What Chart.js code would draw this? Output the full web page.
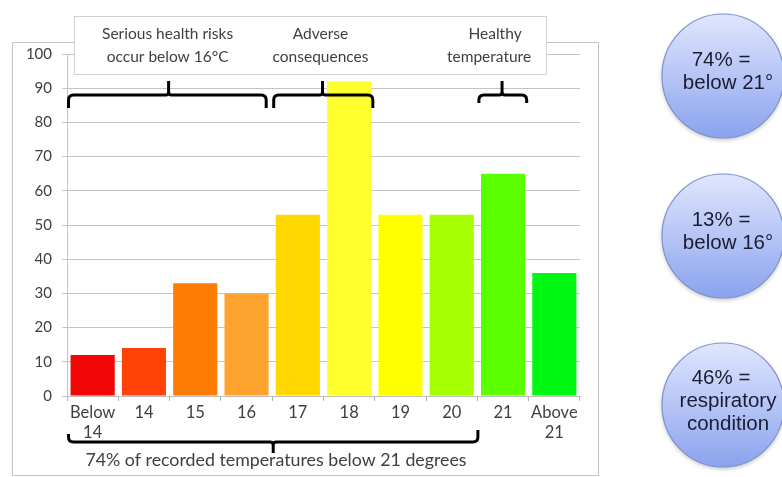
<!DOCTYPE html>
<html>
<head>
<meta charset="utf-8">
<script src="https://cdn.jsdelivr.net/npm/chart.js@4"></script>
<style>
html,body{margin:0;padding:0;background:#fff;}
#wrap{position:relative;width:782px;height:477px;}
</style>
</head>
<body>
<div id="wrap"><canvas id="c" width="782" height="477"></canvas></div>
<script>
const categories = [["Below","14"], "14", "15", "16", "17", "18", "19", "20", "21", ["Above","21"]];
const values = [12, 14, 33, 30, 53, 92, 53, 53, 65, 36];
const barColors = ["#f20606", "#ff4308", "#ff7c02", "#fda32e", "#ffd800", "#ffff2e", "#ffff00", "#a6ff00", "#5cff00", "#00f712"];
const yTicks = [0, 10, 20, 30, 40, 50, 60, 70, 80, 90, 100];
const boxLabels = [
  {lines:["Serious health risks","occur below 16\u00B0C"], from:0, to:3},
  {lines:["Adverse","consequences"], from:4, to:5},
  {lines:["Healthy","temperature"], from:8, to:8}
];
const bottomNote = "74% of recorded temperatures below 21 degrees";
const bottomSpan = {from:0, to:7};
const bubbles = [
  ["74% =", "below 21\u00B0"],
  ["13% =", "below 16\u00B0"],
  ["46% =", "respiratory", "condition"]
];

const FONT = "Lato, 'Open Sans', sans-serif";

function brace(ctx, x1, x2, xm, yH, yL, yR, yTip) {
  const r = 5;
  const dirL = Math.sign(yL - yH), dirR = Math.sign(yR - yH), dirT = Math.sign(yTip - yH);
  ctx.beginPath();
  ctx.moveTo(x1, yL);
  ctx.lineTo(x1, yH + dirL * r);
  ctx.quadraticCurveTo(x1, yH, x1 + r, yH);
  ctx.lineTo(xm - 3, yH);
  ctx.quadraticCurveTo(xm, yH, xm, yH + dirT * 3);
  ctx.lineTo(xm, yTip);
  ctx.moveTo(xm, yH + dirT * 3);
  ctx.quadraticCurveTo(xm, yH, xm + 3, yH);
  ctx.lineTo(x2 - r, yH);
  ctx.quadraticCurveTo(x2, yH, x2, yH + dirR * r);
  ctx.lineTo(x2, yR);
  ctx.stroke();
}

const decor = {
  id: 'decor',
  beforeDraw(chart) {
    const ctx = chart.ctx;
    ctx.save();
    ctx.fillStyle = '#fff';
    ctx.fillRect(0, 0, chart.width, chart.height);
    ctx.strokeStyle = '#c4c4c4';
    ctx.lineWidth = 1;
    ctx.strokeRect(12.5, 42.5, 586, 433);
    ctx.restore();
  },
  afterDraw(chart) {
    const ctx = chart.ctx;
    const xs = chart.scales.x;
    const half = (xs.getPixelForValue(1) - xs.getPixelForValue(0)) / 2;
    const L = i => xs.getPixelForValue(i) - half;
    const R = i => xs.getPixelForValue(i) + half;
    ctx.save();
    // annotation box
    ctx.fillStyle = '#fff';
    ctx.fillRect(74, 16, 472, 58);
    ctx.strokeStyle = '#d2d2d2';
    ctx.lineWidth = 1;
    ctx.strokeRect(74.5, 16.5, 472, 58);
    ctx.fillStyle = '#404040';
    ctx.font = "15.5px " + FONT;
    ctx.textAlign = 'center';
    ctx.textBaseline = 'middle';
    const offs = [-2, -3, -14];
    boxLabels.forEach((b, k) => {
      const cx = (L(b.from) + R(b.to)) / 2 + offs[k];
      ctx.fillText(b.lines[0], cx + (k === 2 ? 6 : 0), 34);
      ctx.fillText(b.lines[1], cx, 57);
    });
    // top braces
    ctx.strokeStyle = '#000';
    ctx.lineWidth = 3;
    ctx.lineJoin = 'round';
    boxLabels.forEach((b, k) => {
      const x1 = L(b.from) + 1.5, x2 = R(b.to) - (k === 0 ? 6 : 2);
      const xm = (L(b.from) + R(b.to)) / 2 - 1;
      const yEnd = k === 2 ? 103 : 108;
      brace(ctx, x1, x2, xm, 95, yEnd, yEnd, 81);
    });
    // bottom brace
    const bx1 = L(bottomSpan.from) + 1.5, bx2 = R(bottomSpan.to) + 0.5;
    const bxm = (L(bottomSpan.from) + R(bottomSpan.to)) / 2 + 1;
    brace(ctx, bx1, bx2, bxm, 442, 434, 430, 453);
    ctx.fillStyle = '#404040';
    ctx.font = "17.8px " + FONT;
    ctx.textAlign = 'center';
    ctx.fillText(bottomNote, 276, 460);
    // bubbles
    const centers = [76, 236, 405];
    bubbles.forEach((lines, k) => {
      const cx = 723, cy = centers[k], rx = 61, ry = 62;
      ctx.save();
      ctx.shadowColor = 'rgba(0,0,0,0.25)';
      ctx.shadowBlur = 4;
      ctx.shadowOffsetY = 2;
      const g = ctx.createLinearGradient(0, cy - ry, 0, cy + ry);
      g.addColorStop(0, '#e0e6fe');
      g.addColorStop(0.5, '#b6c5f6');
      g.addColorStop(1, '#8aa3ec');
      ctx.fillStyle = g;
      ctx.beginPath();
      ctx.ellipse(cx, cy, rx, ry, 0, 0, Math.PI * 2);
      ctx.fill();
      ctx.restore();
      ctx.strokeStyle = '#7d91cf';
      ctx.lineWidth = 1.2;
      ctx.beginPath();
      ctx.ellipse(cx, cy, rx, ry, 0, 0, Math.PI * 2);
      ctx.stroke();
      ctx.fillStyle = '#1c1c30';
      ctx.font = "20.5px 'Liberation Sans', Arial, sans-serif";
      ctx.textBaseline = 'middle';
      const lh = 23;
      const y0 = cy - (lines.length - 1) * lh / 2 - 4;
      lines.forEach((t, i) => {
        if (i === 0) { ctx.textAlign = 'center'; ctx.fillText(t, 721, y0); }
        else { ctx.textAlign = 'center'; ctx.fillText(t, 728, y0 + i * lh); }
      });
    });
    ctx.restore();
  }
};

new Chart(document.getElementById('c'), {
  type: 'bar',
  data: {
    labels: categories,
    datasets: [{
      data: values,
      backgroundColor: barColors,
      borderWidth: 0,
      categoryPercentage: 1,
      barPercentage: 0.86
    }]
  },
  options: {
    responsive: false,
    animation: false,
    devicePixelRatio: 1,
    layout: {padding: {left: 11, right: 202, top: 54, bottom: 0}},
    plugins: {legend: {display: false}, tooltip: {enabled: false}},
    scales: {
      x: {
        grid: {display: true, drawOnChartArea: false, drawTicks: true, tickLength: 5, color: '#a8b0c8', offset: true},
        border: {display: true, color: '#bcbcbc'},
        ticks: {color: '#404040', font: {family: FONT, size: 16.5, lineHeight: 1.2}, padding: 2, maxRotation: 0, autoSkip: false},
        afterFit(s) { s.height = 81; }
      },
      y: {
        min: 0, max: 100,
        afterBuildTicks(s) { s.ticks = yTicks.map(v => ({value: v})); },
        grid: {color: '#c4c4c4', tickLength: 5, drawTicks: true},
        border: {display: true, color: '#c4c4c4'},
        ticks: {color: '#404040', font: {family: FONT, size: 15}, padding: 10},
        afterFit(s) { s.width = 56; }
      }
    }
  },
  plugins: [decor]
});
</script>
</body>
</html>
